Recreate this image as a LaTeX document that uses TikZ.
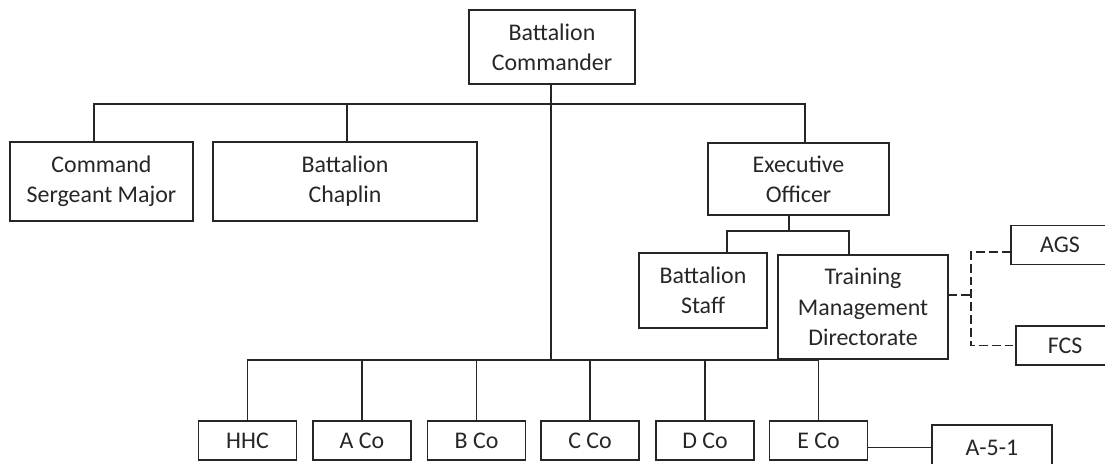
\documentclass[tikz,border=0pt]{standalone}
\usepackage{fontspec}
\setmainfont{Carlito}
\usepackage{tikz}
\usetikzlibrary{positioning,calc}

\begin{document}
\begin{tikzpicture}[
        x=0.025cm,y=-0.025cm,
        font=\fontsize{17}{21.5}\selectfont,
        unit/.style={draw=black!85,line width=0.9pt,text=black!85,align=center,inner sep=0pt,minimum height=1.975cm},
        coy/.style={unit,minimum width=2.45cm,minimum height=0.975cm},
        link/.style={draw=black!85,line width=0.8pt},
        dotlink/.style={link,dash pattern=on 0.22cm off 0.1cm},
    ]
    \useasboundingbox (0,0) rectangle (1105,464);

    % command group
    \node[unit,minimum width=4.15cm,minimum height=1.85cm] (bc) at (552,47) {Battalion\\Commander};
    \node[unit,minimum width=4.575cm] (csm)  at (101.5,181.5) {Command\\Sergeant Major};
    \node[unit,minimum width=6.6cm]   (chap) at (345,181.5)   {Battalion\\Chaplin};
    \node[unit,minimum width=4.525cm,minimum height=1.8cm] (xo) at (798.5,179) {Executive\\Officer};

    % staff
    \node[unit,minimum width=3.2cm,minimum height=1.875cm] (staff) at (703,290.5) {Battalion\\Staff};
    \node[unit,minimum width=4.25cm,minimum height=2.6cm]  (tmd)   at (863,307)   {Training\\Management\\Directorate};
    \node[coy] (ags) at (1060,245)   {AGS};
    \node[coy] (fcs) at (1065,345.5) {FCS};

    % companies
    \node[coy] (hhc) at (247.5,440.5) {HHC};
    \node[coy] (aco) at (362,440.5)   {A Co};
    \node[coy] (bco) at (476.5,440.5) {B Co};
    \node[coy] (cco) at (590,440.5)   {C Co};
    \node[coy] (dco) at (705,440.5)   {D Co};
    \node[coy] (eco) at (818.5,440.5) {E Co};
    \node[coy,minimum width=3cm,minimum height=1.125cm] (a51) at (992,447.5) {A-5-1};

    \coordinate (topbus) at (551,104);
    \coordinate (lowbus) at (551,360);
    \coordinate (xobus)  at (789,231);
    \coordinate (tmdbus) at (971,295);

    \draw[link] ([xshift=-0.1875cm]csm.north) |- (topbus) -| ([xshift=0.1625cm]xo.north);
    \draw[link] ([xshift=0.05cm]chap.north) -- ([xshift=0.05cm]chap.north |- topbus);
    \draw[link] (bc.south -| topbus) -- (lowbus);

    \draw[link] (xo.south -| xobus) -- (xobus);
    \draw[link] ([xshift=0.6cm]staff.north) |- (xobus) -| ([xshift=-0.35cm]tmd.north);

    \draw[dotlink] (tmd.east |- tmdbus) -- (tmdbus);
    \draw[dotlink] ([yshift=-0.175cm]ags.west) -| (tmdbus) |- (fcs.west);

    \draw[link] (hhc.north) |- (lowbus) -| (eco.north);
    \foreach \c in {aco,bco,cco,dco}
        \draw[link] (\c.north) -- (\c.north |- lowbus);

    \draw[link] (eco.east |- a51.west) -- (a51.west);
\end{tikzpicture}
\end{document}
